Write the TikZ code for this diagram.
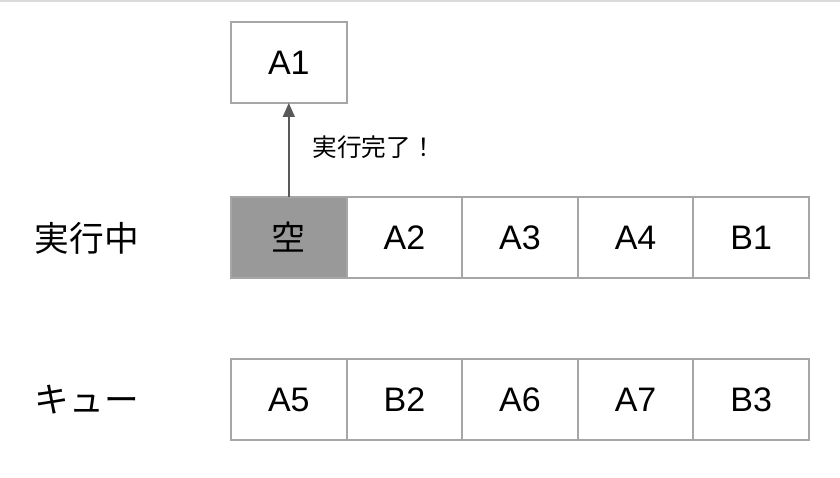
\documentclass[tikz,border=0pt]{standalone}
\usepackage{fontspec}
\setmainfont{Liberation Sans}
\newfontfamily\jpfont{Noto Sans CJK JP}
\usepackage{xcolor}
\usetikzlibrary{arrows.meta}

\definecolor{cellline}{HTML}{A6A6A6}
\definecolor{emptyfill}{HTML}{999999}
\definecolor{arrowgray}{HTML}{595959}
\definecolor{topline}{HTML}{DADADA}

\begin{document}
\begin{tikzpicture}[
  x=0.75pt, y=-0.75pt,
  cell/.style={draw=cellline, line width=1.5pt, fill=white, minimum width=86.7pt,
    minimum height=60.75pt, inner sep=0pt, outer sep=0pt,
    font=\fontsize{25.5}{30}\selectfont},
  rowlabel/.style={font=\jpfont\fontsize{26}{31}\selectfont},
  arrow/.style={-{Triangle[length=10.5pt, width=9pt]}, draw=arrowgray, fill=arrowgray,
    line width=1.1pt}
]
\useasboundingbox (0,0) rectangle (840,478);
\fill[topline] (0,0) rectangle (840,2);

% running row
\node[rowlabel] (runlabel) at (87,238) {実行中};
\node[cell, fill=emptyfill] (run1) at (288.8,237.5) {\jpfont 空};
\node[cell] (run2) at (404.4,237.5) {A2};
\node[cell] (run3) at (520,237.5) {A3};
\node[cell] (run4) at (635.6,237.5) {A4};
\node[cell] (run5) at (751.2,237.5) {B1};

% queue row
\node[rowlabel] (quelabel) at (87,400) {キュー};
\node[cell] (que1) at (288.8,399.5) {A5};
\node[cell] (que2) at (404.4,399.5) {B2};
\node[cell] (que3) at (520,399.5) {A6};
\node[cell] (que4) at (635.6,399.5) {A7};
\node[cell] (que5) at (751.2,399.5) {B3};

% finished task
\node[cell] (done) at (288.8,62.5) {A1};

\draw[arrow] (run1) -- node[right, xshift=14pt, yshift=2pt,
  font=\jpfont\fontsize{18.5}{22}\selectfont] {実行完了！} (done);

\end{tikzpicture}
\end{document}
